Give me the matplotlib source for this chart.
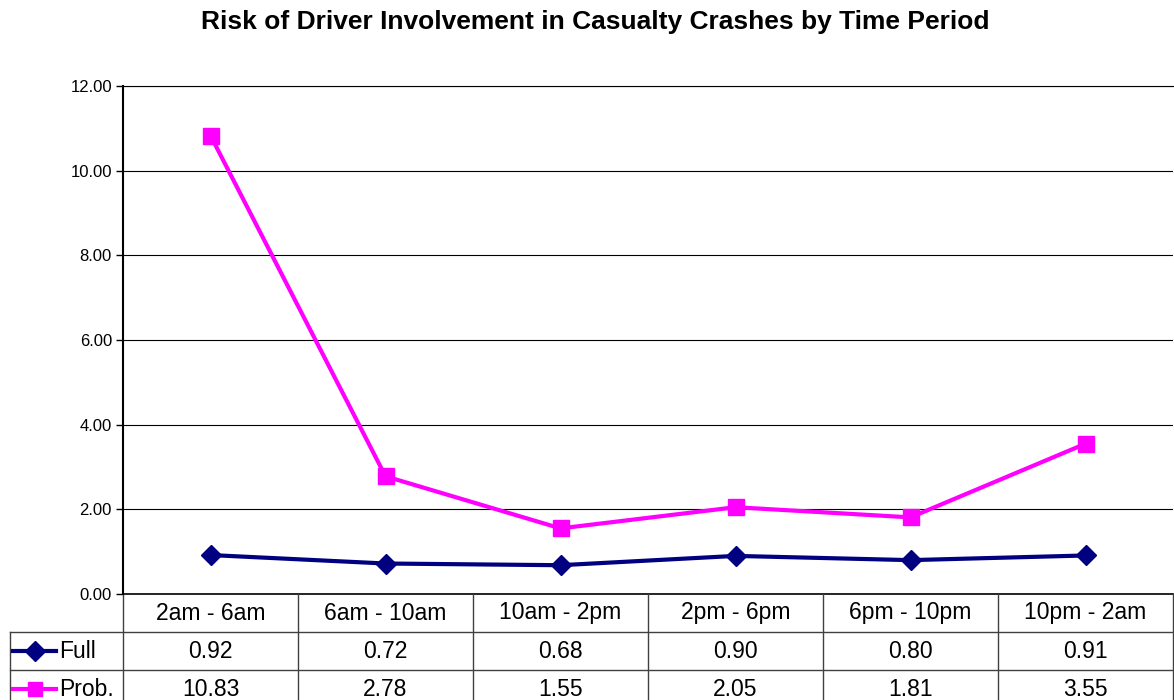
#!/usr/bin/env python3

import matplotlib
matplotlib.use('Agg')
import matplotlib.pyplot as plt
from matplotlib.lines import Line2D
import matplotlib.transforms as mtransforms

plt.rcParams['font.family'] = ['Liberation Sans', 'DejaVu Sans']

periods = ['2am - 6am', '6am - 10am', '10am - 2pm', '2pm - 6pm',
           '6pm - 10pm', '10pm - 2am']
full_risk = [0.92, 0.72, 0.68, 0.90, 0.80, 0.91]
prob_risk = [10.83, 2.78, 1.55, 2.05, 1.81, 3.55]
series_names = ['Full', 'Prob.']
y_ticks = [0, 2, 4, 6, 8, 10, 12]

NAVY = '#000080'
MAGENTA = '#ff00ff'

W, H = 1174, 700
fig = plt.figure(figsize=(W / 100, H / 100), dpi=100)
left, right, top, bottom = 123, 1173, 86, 594
ax = fig.add_axes([left / W, 1 - bottom / H, (right - left) / W,
                   (bottom - top) / H])

x = list(range(len(periods)))
ax.plot(x, full_risk, color=NAVY, lw=3, marker='D', ms=10,
        label=series_names[0], clip_on=False, zorder=3)
ax.plot(x, prob_risk, color=MAGENTA, lw=3, marker='s', ms=12,
        label=series_names[1], clip_on=False, zorder=3)

ax.set_xlim(-0.5, len(periods) - 0.5)
ax.set_ylim(0, 12)
ax.set_yticks(y_ticks)
ax.set_yticklabels([f'{v:.2f}' for v in y_ticks], fontsize=12)
ax.tick_params(axis='y', length=5, width=1, pad=3)
ax.set_xticks([])
ax.grid(axis='y', color='black', lw=0.8)
for s in ['right', 'bottom']:
    ax.spines[s].set_visible(False)
ax.spines['left'].set_linewidth(1.5)
ax.spines['top'].set_linewidth(0.8)

# data table below the plot
row_h = 38 / (bottom - top)
trans = mtransforms.blended_transform_factory(ax.transData, ax.transAxes)
tbl_color = '#404040'
n = len(periods)
xl = -0.5 - (left - 10) / ((right - left) / n)
ax.plot([-0.5, n - 0.5], [0, 0], transform=trans, color='black', lw=1.2,
        clip_on=False)
for k in (1, 2):
    ax.plot([xl, n - 0.5], [-k * row_h, -k * row_h], transform=trans,
            color=tbl_color, lw=1, clip_on=False)
for i in range(n + 1):
    ax.plot([i - 0.5, i - 0.5], [0, -3 * row_h], transform=trans,
            color=tbl_color, lw=1, clip_on=False)
ax.plot([xl, xl], [-row_h, -3 * row_h], transform=trans, color=tbl_color,
        lw=1, clip_on=False)

for i, p in enumerate(periods):
    ax.text(i, -0.5 * row_h, p, transform=trans, ha='center', va='center',
            fontsize=16.5)
    ax.text(i, -1.5 * row_h, f'{full_risk[i]:.2f}', transform=trans,
            ha='center', va='center', fontsize=16.5)
    ax.text(i, -2.5 * row_h, f'{prob_risk[i]:.2f}', transform=trans,
            ha='center', va='center', fontsize=16.5)

# legend keys in table
for k, (name, col, mk, ms) in enumerate([(series_names[0], NAVY, 'D', 10),
                                          (series_names[1], MAGENTA, 's', 10)]):
    yy = 1 - (bottom + (k + 1.5) * 38) / H
    fig.add_artist(Line2D([13 / W, 56 / W], [yy, yy], color=col, lw=3))
    fig.add_artist(Line2D([35 / W], [yy], color=col, marker=mk, ms=ms,
                          lw=0))
    fig.text(59 / W, yy, name, ha='left', va='center', fontsize=16.5)

fig.text(595 / W, 1 - 22 / H,
         'Risk of Driver Involvement in Casualty Crashes by Time Period',
         ha='center', va='center', fontsize=19, fontweight='bold')

fig.savefig('out.png', dpi=100)
